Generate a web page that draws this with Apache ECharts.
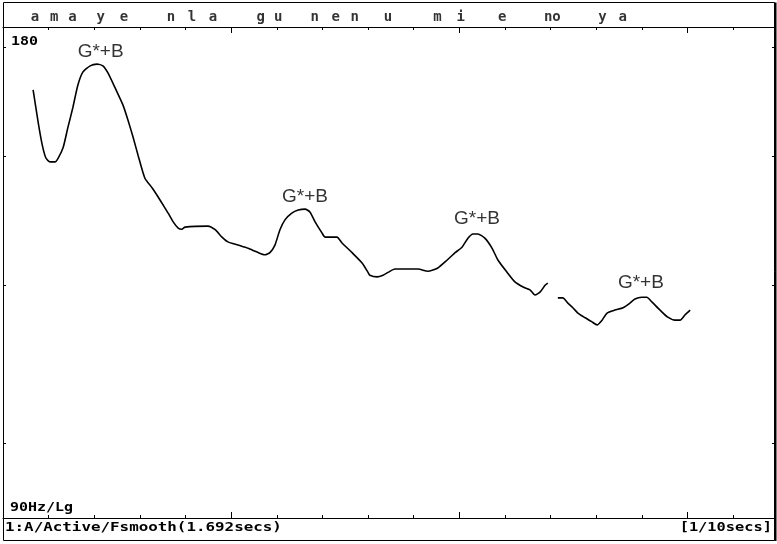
<!DOCTYPE html>
<html><head><meta charset="utf-8">
<script src="https://cdn.jsdelivr.net/npm/echarts@6/dist/echarts.min.js"></script>
<style>html,body{margin:0;padding:0;background:#fff}#c{width:777px;height:544px}</style>
</head><body><div id="c"></div>
<script>
// ---- data ----
const duration = 1.692;          // seconds
const minorStep = 0.1;           // tick every 1/10 s
const majorStep = 0.5;
const yMin = 90, yMax = 180;     // Hz, log scale
const yTicks = [100, 125, 150, 175];

// F0 contour, voiced stretch 1: [time s, Hz]
const seg1 = [[0.066,164.7],[0.077,157.4],[0.086,152.4],[0.094,149.6],[0.103,148.8],[0.114,148.8],[0.121,149.6],[0.132,151.9],[0.142,156.1],[0.153,160.6],[0.164,165.8],[0.175,168.9],[0.191,170.4],[0.206,170.8],[0.219,170.4],[0.230,168.7],[0.246,165.1],[0.263,161.2],[0.274,157.8],[0.285,154.1],[0.296,150.2],[0.311,145.4],[0.327,143.4],[0.340,141.6],[0.351,140.0],[0.362,138.4],[0.373,136.7],[0.384,135.5],[0.392,135.3],[0.399,135.7],[0.449,135.9],[0.465,135.2],[0.480,133.8],[0.493,132.9],[0.515,132.3],[0.537,131.7],[0.557,131.0],[0.574,130.5],[0.585,130.9],[0.596,132.3],[0.607,135.2],[0.618,137.1],[0.633,138.4],[0.647,139.0],[0.662,139.2],[0.673,138.6],[0.684,136.7],[0.699,134.6],[0.706,133.8],[0.732,133.8],[0.743,132.7],[0.765,130.9],[0.787,129.0],[0.800,127.3],[0.804,126.8],[0.820,126.5],[0.833,126.8],[0.844,127.3],[0.859,127.9],[0.885,127.9],[0.910,127.9],[0.931,127.5],[0.953,128.1],[0.973,129.5],[0.991,130.9],[1.006,131.9],[1.019,133.6],[1.030,134.4],[1.041,134.4],[1.056,133.6],[1.072,131.7],[1.085,129.5],[1.105,127.3],[1.122,125.6],[1.140,124.7],[1.155,124.2],[1.166,123.3],[1.177,123.8],[1.188,125.0],[1.194,125.4]];
// voiced stretch 2
const seg2 = [[1.216,122.8],[1.227,122.8],[1.238,121.9],[1.249,121.1],[1.260,120.2],[1.276,119.4],[1.291,118.7],[1.302,118.2],[1.313,119.0],[1.324,120.2],[1.341,120.7],[1.359,121.1],[1.374,121.9],[1.385,122.6],[1.400,122.9],[1.411,122.9],[1.422,122.1],[1.440,120.7],[1.457,119.5],[1.473,119.0],[1.484,119.0],[1.495,119.9],[1.506,120.7]];

// segment labels along the top
const phonemes = ['a','m','a','y','e','n','l','a','g','u','n','e','n','u','m','i','e','no','y','a'];
const phonemeTimes = [0.070,0.112,0.152,0.214,0.265,0.368,0.414,0.460,0.565,0.603,0.683,0.729,0.771,0.844,0.952,1.003,1.094,1.204,1.314,1.358];

// accent annotations
const annoTexts = ['G*+B','G*+B','G*+B','G*+B'];
const annoTimes = [0.214, 0.662, 1.039, 1.398];
const annoHz = [173.8, 141.6, 137.3, 125.4];

const topLabel = '180';
const bottomLabel = '90Hz/Lg';
const statusText = '1:A/Active/Fsmooth(1.692secs)';
const scaleText = '[1/10secs]';

// ---- chart ----
const chart = echarts.init(document.getElementById('c'), null, {renderer: 'canvas'});
const mono = 'bold 13px "DejaVu Sans Mono", "Liberation Mono", monospace';
const black = '#000';

function xAx(pos, interval, tickLen, showLine) {
  return {
    type: 'value', gridIndex: 0, position: pos, min: 0, max: duration, interval: interval,
    axisLine: {show: showLine, onZero: false, lineStyle: {color: black, width: 1}},
    axisTick: {show: true, inside: true, length: tickLen, lineStyle: {color: black, width: 1}},
    axisLabel: {show: false}, splitLine: {show: false}
  };
}
function yAx(pos) {
  return {
    type: 'log', logBase: 10, gridIndex: 0, position: pos, min: yMin, max: yMax,
    axisLine: {show: true, onZero: false, lineStyle: {color: black, width: 1}},
    axisTick: {show: true, inside: true, length: 3, customValues: yTicks, lineStyle: {color: black, width: 1}},
    axisLabel: {show: false}, splitLine: {show: false}
  };
}
function txt(text, x, y, align, sx) {
  return {
    type: 'text', x: x, y: y, scaleX: sx, scaleY: 1, silent: true,
    style: {text: text, font: mono, fill: black,
      textAlign: align, align: align, textVerticalAlign: 'middle', verticalAlign: 'middle'}
  };
}

const option = {
  animation: false,
  backgroundColor: '#fff',
  grid: [
    {left: 3, right: 2, top: 27, bottom: 26, containLabel: false},
    {left: 3, right: 2, top: 3, height: 24, containLabel: false}
  ],
  xAxis: [
    xAx('bottom', minorStep, 3, true),
    xAx('top', minorStep, 3, true),
    xAx('bottom', majorStep, 6, false),
    xAx('top', majorStep, 6, false),
    {type: 'value', gridIndex: 1, min: 0, max: duration, show: false}
  ],
  yAxis: [
    yAx('left'),
    yAx('right'),
    {type: 'value', gridIndex: 1, min: 0, max: 1, show: false}
  ],
  series: [
    {type: 'line', xAxisIndex: 0, yAxisIndex: 0, data: seg1, showSymbol: false, smooth: 0.2,
     lineStyle: {color: black, width: 1.6}, silent: true},
    {type: 'line', xAxisIndex: 0, yAxisIndex: 0, data: seg2, showSymbol: false, smooth: 0.2,
     lineStyle: {color: black, width: 1.6}, silent: true},
    {type: 'scatter', xAxisIndex: 0, yAxisIndex: 0, symbolSize: 1, silent: true,
     itemStyle: {color: 'rgba(0,0,0,0)'},
     data: annoTimes.map((t, i) => ({value: [t, annoHz[i]], name: annoTexts[i]})),
     label: {show: true, position: 'inside', formatter: p => p.name, color: black,
       fontFamily: '"Liberation Sans", Arial, sans-serif', fontSize: 19}},
    {type: 'scatter', xAxisIndex: 4, yAxisIndex: 2, symbolSize: 1, silent: true,
     itemStyle: {color: 'rgba(0,0,0,0)'},
     data: phonemeTimes.map((t, i) => ({value: [t, 0.5], name: phonemes[i]})),
     label: {show: true, position: 'inside', formatter: p => p.name, color: black,
       fontFamily: '"DejaVu Sans Mono", monospace', fontWeight: 'bold', fontSize: 14, offset: [0, 2]}}
  ],
  graphic: [
    {type: 'rect', silent: true, shape: {x: 3.5, y: 2.5, width: 771, height: 538},
     style: {fill: null, stroke: black, lineWidth: 1}},
    {type: 'line', silent: true, shape: {x1: 775.5, y1: 2.5, x2: 775.5, y2: 541}, style: {stroke: black, lineWidth: 2}},
    {type: 'line', silent: true, shape: {x1: 3, y1: 518.5, x2: 776, y2: 518.5}, style: {stroke: black, lineWidth: 1}},
    txt(topLabel, 11, 42, 'left', 1.15),
    txt(bottomLabel, 10, 508, 'left', 1.15),
    txt(statusText, 5, 527.5, 'left', 1.22),
    txt(scaleText, 772, 527.5, 'right', 1.18)
  ]
};
chart.setOption(option);
</script></body></html>
